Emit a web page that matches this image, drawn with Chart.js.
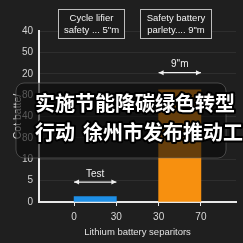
<!DOCTYPE html>
<html>
<head>
<meta charset="utf-8">
<script src="https://cdn.jsdelivr.net/npm/chart.js@4.4.1/dist/chart.umd.min.js"></script>
<style>
  html, body { margin: 0; padding: 0; background: #1f1f1f; }
  #wrap { width: 243px; height: 243px; position: relative; }
</style>
</head>
<body>
<div id="wrap"><canvas id="chart"></canvas></div>
<script>
// data
const xPositions = [1.5, 3.5];
const barValues = [0.25, 5.25];
const barColors = ['#1e8fe6', '#f7900f'];
const xTickLabels = ['0', '30', '30', '70'];
const yTickLabels = ['0', '5', '10', '80', '40', '80', '20', '50', '40'];
const boxLines = [
  ['Cycle lifier', 'safety ... 5"m'],
  ['Safety battery', 'parlety.... 9"m']
];
const arrowLabels = ['Test', '9"m'];
const captionLines = [['实施节能降碳绿色转型'], ['行动', '徐州市发布推动工']];

const FONT = '"Liberation Sans", Arial, sans-serif';

const overlayPlugin = {
  id: 'overlay',
  afterDraw(chart) {
    const ctx = chart.ctx;
    const xs = chart.scales.x, ys = chart.scales.y;
    ctx.save();

    // double arrows with labels
    function arrow(x1, x2, y, label) {
      ctx.strokeStyle = '#f0f0f0';
      ctx.fillStyle = '#f0f0f0';
      ctx.lineWidth = 1.2;
      ctx.beginPath();
      ctx.moveTo(x1, y); ctx.lineTo(x2, y); ctx.stroke();
      ctx.beginPath();
      ctx.moveTo(x1, y); ctx.lineTo(x1 + 5, y - 2.5); ctx.lineTo(x1 + 5, y + 2.5); ctx.closePath(); ctx.fill();
      ctx.beginPath();
      ctx.moveTo(x2, y); ctx.lineTo(x2 - 5, y - 2.5); ctx.lineTo(x2 - 5, y + 2.5); ctx.closePath(); ctx.fill();
      ctx.font = '10px ' + FONT;
      ctx.textAlign = 'center';
      ctx.textBaseline = 'bottom';
      ctx.fillText(label, (x1 + x2) / 2, y - 3);
    }
    arrow(xs.getPixelForValue(1), xs.getPixelForValue(2), ys.getPixelForValue(0.93), arrowLabels[0]);
    arrow(xs.getPixelForValue(3), xs.getPixelForValue(4), ys.getPixelForValue(6.05), arrowLabels[1]);

    // annotation boxes at top
    const boxes = [[58, 9, 66, 29], [140, 9, 71, 29]];
    boxes.forEach((b, i) => {
      ctx.fillStyle = '#1c1c1c';
      ctx.fillRect(b[0], b[1], b[2], b[3]);
      ctx.strokeStyle = '#bdbdbd';
      ctx.lineWidth = 1;
      ctx.strokeRect(b[0] + 0.5, b[1] + 0.5, b[2], b[3]);
      ctx.fillStyle = '#f2f2f2';
      ctx.font = '9.5px ' + FONT;
      ctx.textAlign = 'center';
      ctx.textBaseline = 'middle';
      ctx.fillText(boxLines[i][0], b[0] + b[2] / 2 + 0.5, b[1] + 9);
      ctx.fillText(boxLines[i][1], b[0] + b[2] / 2 + 0.5, b[1] + 21);
    });

    // translucent caption panel
    const px = 16, py = 83, pw = 210, ph = 75, r = 8;
    ctx.beginPath();
    ctx.roundRect(px, py, pw, ph, r);
    ctx.fillStyle = 'rgba(12,12,12,0.62)';
    ctx.fill();
    ctx.strokeStyle = 'rgba(120,120,120,0.5)';
    ctx.lineWidth = 1;
    ctx.stroke();

    ctx.font = 'bold 20px "Noto Sans CJK SC", sans-serif';
    ctx.textAlign = 'left';
    ctx.textBaseline = 'middle';
    ctx.lineJoin = 'round';
    captionLines.forEach((parts, i) => {
      const y = 103 + i * 29;
      let x = 35;
      parts.forEach(t => {
        ctx.strokeStyle = '#000';
        ctx.lineWidth = 4;
        ctx.strokeText(t, x, y);
        ctx.fillStyle = '#ffffff';
        ctx.fillText(t, x, y);
        x += ctx.measureText(t).width + 8;
      });
    });
    ctx.restore();
  }
};

new Chart(document.getElementById('chart'), {
  type: 'bar',
  data: {
    datasets: [{
      data: xPositions.map((x, i) => ({ x: x, y: barValues[i] })),
      backgroundColor: barColors,
      borderWidth: 0,
      categoryPercentage: 1,
      barPercentage: 1
    }]
  },
  options: {
    responsive: true,
    maintainAspectRatio: false,
    animation: false,
    layout: { padding: { top: 31, right: 7, left: 0, bottom: 0 } },
    plugins: { legend: { display: false }, tooltip: { enabled: false } },
    scales: {
      x: {
        type: 'linear',
        offset: false,
        min: 0.17,
        max: 4.83,
        afterBuildTicks: (s) => { s.ticks = [1, 2, 3, 4].map(v => ({ value: v })); },
        afterFit: (s) => { s.height = 41; },
        grid: { display: true, offset: false, drawOnChartArea: false, color: '#e8e8e8', tickLength: 4, tickWidth: 1 },
        border: { color: '#e8e8e8', width: 2 },
        ticks: {
          color: '#d8d8d8',
          font: { family: FONT, size: 10 },
          padding: 5,
          maxRotation: 0,
          callback: (v, i) => xTickLabels[i]
        },
        title: {
          display: true,
          text: 'Lithium battery separitors',
          color: '#e0e0e0',
          font: { family: FONT, size: 9.5 },
          padding: { top: 3, bottom: 5 }
        }
      },
      y: {
        min: 0,
        max: 8,
        afterFit: (s) => { s.width = 39; },
        grid: { color: 'rgba(255,255,255,0.07)', drawTicks: false },
        border: { color: '#e8e8e8', width: 2 },
        ticks: {
          stepSize: 1,
          color: '#d0d0d0',
          font: { family: FONT, size: 10 },
          padding: 6,
          callback: (v, i) => yTickLabels[i]
        },
        title: {
          display: true,
          text: 'Cot batte/',
          color: '#d8d8d8',
          font: { family: FONT, size: 10.5 },
          padding: { top: 12, bottom: 0 }
        }
      }
    }
  },
  plugins: [overlayPlugin]
});
</script>
</body>
</html>
